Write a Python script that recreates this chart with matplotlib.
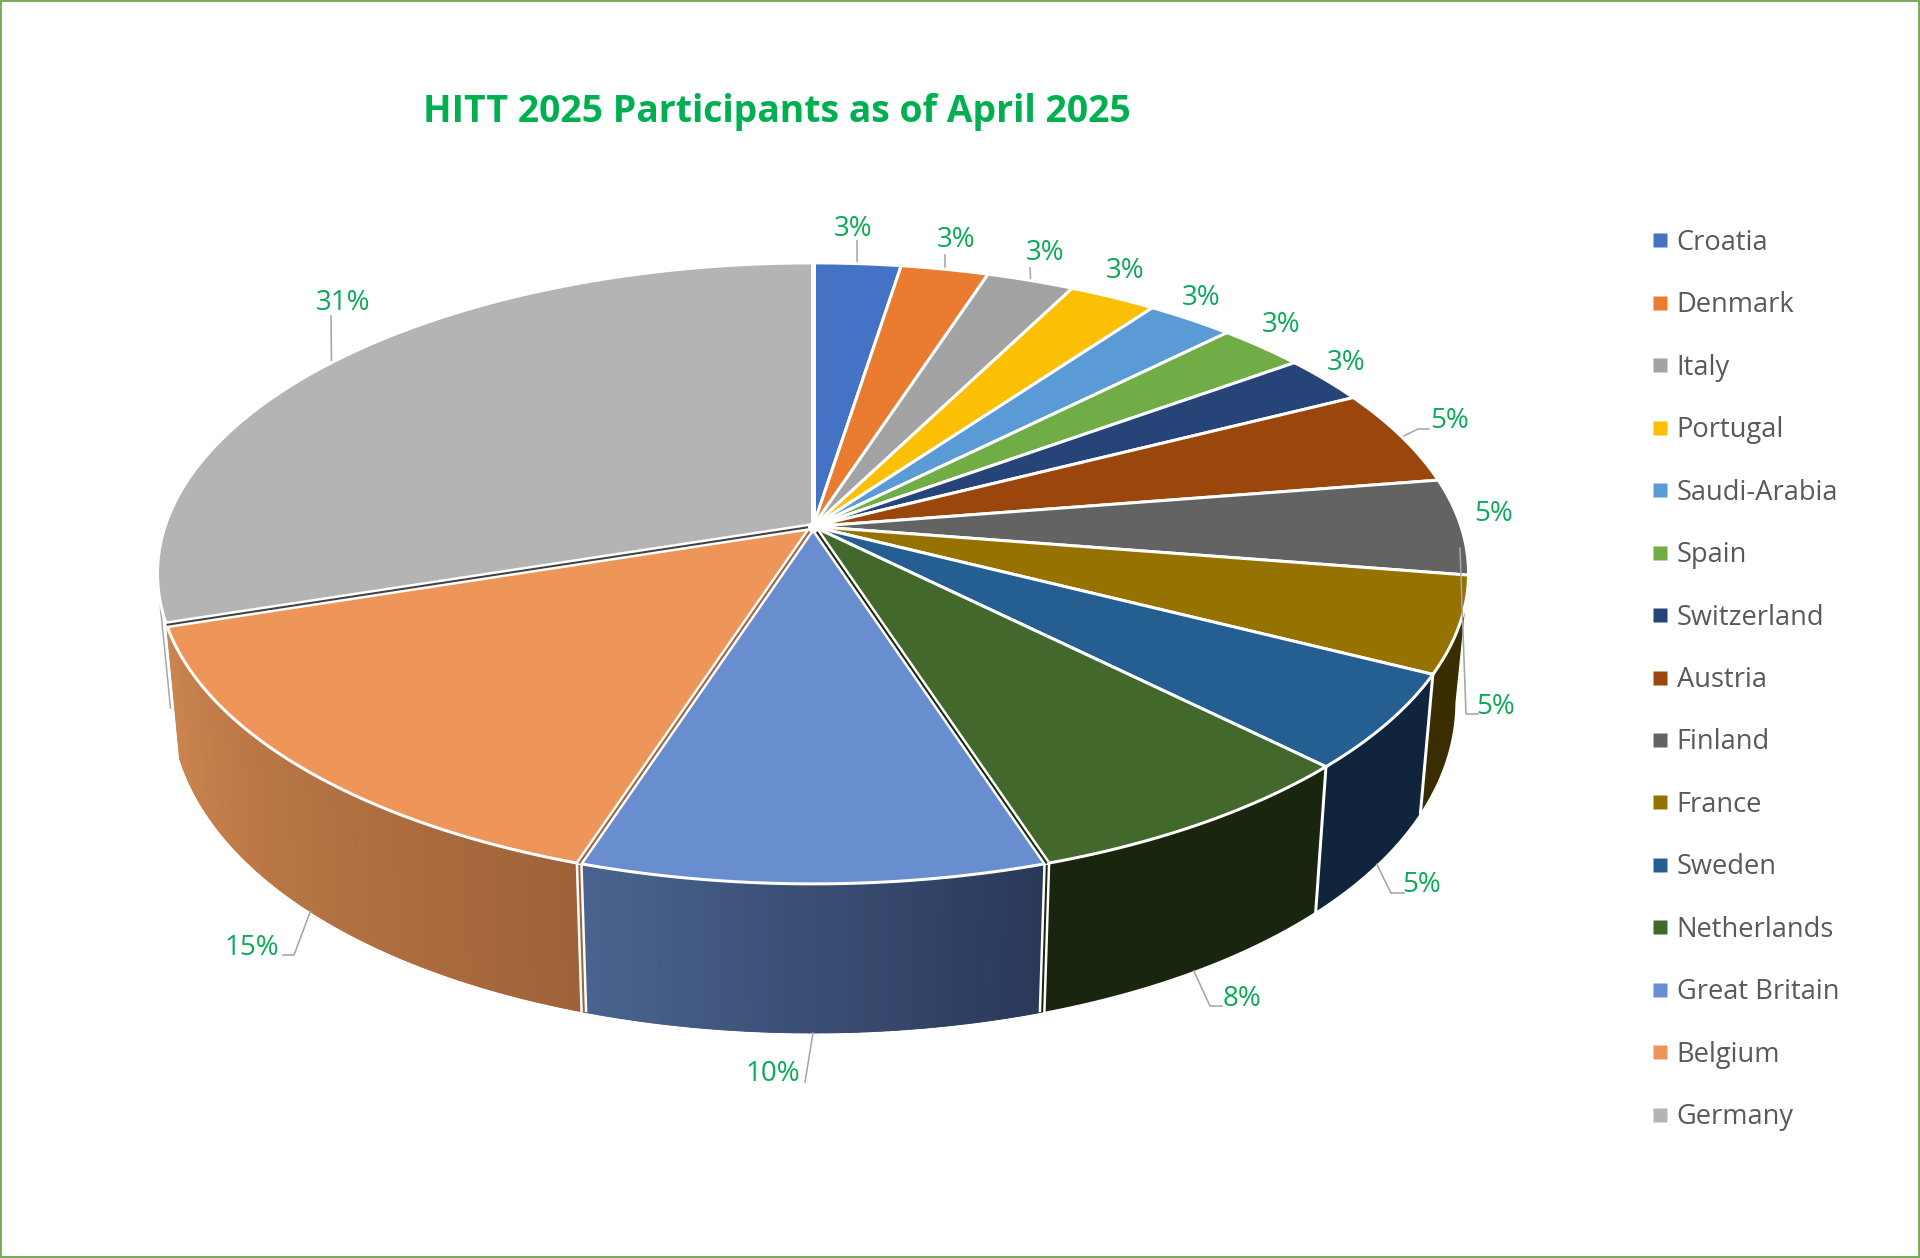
import numpy as np
import matplotlib
matplotlib.use("Agg")
import matplotlib.pyplot as plt
from matplotlib.collections import PolyCollection
from matplotlib.lines import Line2D
from matplotlib.patches import Polygon, Rectangle

countries = ["Croatia", "Denmark", "Italy", "Portugal", "Saudi-Arabia", "Spain", "Switzerland",
             "Austria", "Finland", "France", "Sweden", "Netherlands", "Great Britain", "Belgium", "Germany"]
participants = [1, 1, 1, 1, 1, 1, 1, 2, 2, 2, 2, 3, 4, 6, 12]
pct_labels = ["3%", "3%", "3%", "3%", "3%", "3%", "3%", "5%", "5%", "5%", "5%", "8%", "10%", "15%", "31%"]
top_colors = ["#4472c4", "#e97c30", "#a3a3a3", "#fbbf04", "#5b9bd5", "#70ad47", "#264478",
              "#9a460c", "#636363", "#967200", "#255e91", "#43682b", "#698ed0", "#ee965a", "#b4b4b4"]

# wall shading, left and right end of each visible wall
wall_colors = {9: ("#3a2d00", "#3a2d00"), 10: ("#10253b", "#10253b"), 11: ("#1a250f", "#1a250f"),
               12: ("#4a648f", "#2a3859"), 13: ("#cc854f", "#9f6238")}

# pie geometry in pixels
CX, CY = 813, 526.5
A, B, K = 648, 303.4, 0.151
# the lower rim is flatter at the sides than a copy of the top would be
CY_LOW, B_LOW, K_LOW = 648, 346.5, 0.10
LOW = 0.98

# label centres and leader elbows, read in pixels
label_pos = [(853, 229), (956, 240), (1045, 253), (1125, 271), (1201, 298), (1281, 325), (1346, 363),
             (1450, 421), (1494, 514), (1496, 707), (1422, 885), (1242, 999), (773, 1074), (252, 948), (343, 303)]
leaders = {0: (False, [(857, 241)]), 1: (False, [(945, 255)]), 2: (False, [(1030, 268)]),
           7: (False, [(1418, 429), (1429, 429)]),
           9: (None, [(1460, 548), (1466, 714), (1478, 714)]),
           10: (True, [(1391, 893), (1404, 893)]), 11: (True, [(1210, 1006), (1222, 1006)]),
           12: (True, [(805, 1082)]), 13: (True, [(294, 955), (283, 955)]), 14: (False, [(331, 316)])}


def rim(theta, low=False):
    t = np.radians(theta)
    w = 1 + K * np.cos(t)
    x = A * np.sin(t) / w
    if low:
        y = -B_LOW * np.cos(t) / (1 + K_LOW * np.cos(t))
        return CX + LOW * x, CY_LOW + y
    return CX + x, CY - B * np.cos(t) / w


def mix(c1, c2, f):
    a = np.array(matplotlib.colors.to_rgb(c1))
    b = np.array(matplotlib.colors.to_rgb(c2))
    return tuple(a + (b - a) * f)


fig = plt.figure(figsize=(19.2, 12.58), dpi=100, facecolor="white")
ax = fig.add_axes([0, 0, 1, 1])
ax.set_xlim(0, 1920)
ax.set_ylim(1258, 0)
ax.axis("off")
px = 72 / fig.dpi

edges = np.cumsum([0] + participants) / sum(participants) * 360
mids = (edges[:-1] + edges[1:]) / 2

# thin outline where Germany's wall would show on the left
gx0, gy0 = rim(257)
gx1, gy1 = rim(257, low=True)
ax.plot([gx0, gx0 + (gx1 - gx0) * 0.85], [gy0, gy0 + (gy1 - gy0) * 0.85], color="#a6a6a6", lw=1.5 * px, zorder=1)

# walls: a base polygon, then thin strips so that the shading can run along them
for i, (c_left, c_right) in wall_colors.items():
    th = np.linspace(edges[i], edges[i + 1], 60)
    outline = [rim(t) for t in th] + [rim(t, True) for t in th[::-1]]
    ax.add_patch(Polygon(outline, closed=True, facecolor=mix(c_left, c_right, 0.5), edgecolor="none", zorder=2))
    if c_left != c_right:
        quads, cols = [], []
        for j in range(len(th) - 1):
            quads.append([rim(th[j]), rim(th[j + 1]), rim(th[j + 1], True), rim(th[j], True)])
            cols.append(mix(c_right, c_left, j / (len(th) - 2)))
        ax.add_collection(PolyCollection(quads, facecolors=cols, edgecolors=cols, linewidths=0.6, zorder=2))

for i in [9, 10]:
    p0, p1 = rim(edges[i + 1]), rim(edges[i + 1], True)
    ax.plot([p0[0], p1[0]], [p0[1], p1[1]], color="white", lw=3 * px, zorder=3)
for i, col in [(11, "#1a250f"), (12, "#9f6238")]:
    p0, p1 = rim(edges[i + 1]), rim(edges[i + 1], True)
    ax.plot([p0[0], p1[0]], [p0[1], p1[1]], color="white", lw=7 * px, zorder=3, solid_capstyle="butt")
    ax.plot([p0[0], p1[0]], [p0[1], p1[1]], color=col, lw=2 * px, zorder=3, solid_capstyle="butt")

# top of the pie
for i, col in enumerate(top_colors):
    th = np.linspace(edges[i], edges[i + 1], 80)
    pts = [(CX, CY)] + [rim(t) for t in th]
    ax.add_patch(Polygon(pts, closed=True, facecolor=col, edgecolor="white", lw=3 * px,
                         joinstyle="miter", zorder=4))

for angle, col in [(edges[12], "#1a250f"), (edges[13], "#9f6238"), (edges[14], "#404040")]:
    x, y = rim(angle)
    ax.plot([CX, x], [CY, y], color="white", lw=7 * px, zorder=5, solid_capstyle="butt")
    ax.plot([CX, x], [CY, y], color=col, lw=2 * px, zorder=5, solid_capstyle="butt")
x, y = rim(0)
ax.plot([CX, x], [CY, y], color="white", lw=5 * px, zorder=5, solid_capstyle="butt")
ax.plot([CX], [CY], marker="o", ms=11 * px, color="white", mec="none", zorder=6)

# leaders and labels
for i, (low, pts) in leaders.items():
    start = [rim(mids[i], low)] if low is not None else []
    path = start + pts
    ax.plot([p[0] for p in path], [p[1] for p in path], color="#a6a6a6", lw=1.6 * px,
            zorder=7 if i == 9 else 3)
for (x, y), lab in zip(label_pos, pct_labels):
    ax.text(x, y, lab, ha="center", va="center", color="#0aaa58", fontsize=20, family="Open Sans", zorder=8)

ax.text(777, 112, "HITT 2025 Participants as of April 2025", ha="center", va="center", color="#00b050",
        fontsize=26.95, fontweight="bold", family="Open Sans")

handles = [Line2D([], [], linestyle="none", marker="s", ms=13.5 * px, color=c, mec="none") for c in top_colors]
ax.legend(handles, countries, loc="upper left", bbox_to_anchor=(1644 / 1920, 1 - 229 / 1258), frameon=False,
          labelcolor="#595959", prop={"family": "Open Sans", "size": 19.6}, labelspacing=1.265,
          handletextpad=0.0, handlelength=1.2, borderpad=0, borderaxespad=0)

ax.add_patch(Rectangle((0, 0), 1920, 1258, fill=False, edgecolor="#7bab5c", lw=4 * px, zorder=10, clip_on=True))

fig.savefig("out.png", dpi=100)
